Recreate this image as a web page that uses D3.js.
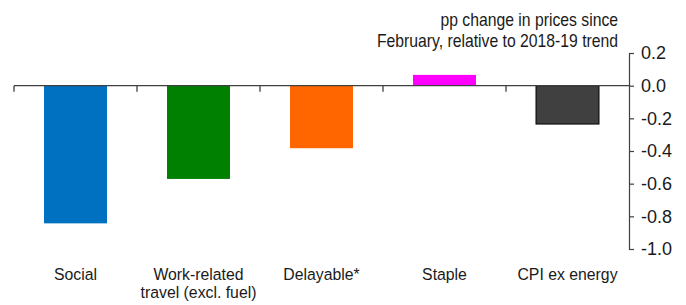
<!DOCTYPE html>
<html>
<head>
<meta charset="utf-8">
<script src="https://cdn.jsdelivr.net/npm/d3@7"></script>
<style>
  body { margin: 0; background: #fff; }
  text { font-family: "Liberation Sans", Arial, sans-serif; fill: #1a1a1a; }
</style>
</head>
<body>
<svg id="canvas"></svg>
<script>
// categories and values (pp change vs 2018-19 trend)
const categories = ['Social', 'Work-related travel (excl. fuel)', 'Delayable*', 'Staple', 'CPI ex energy'];
const labelLines = [['Social'], ['Work-related', 'travel (excl. fuel)'], ['Delayable*'], ['Staple'], ['CPI ex energy']];
const values = [-0.843, -0.571, -0.383, 0.066, -0.235];
const colors = ['#0070c0', '#008000', '#ff6600', '#ff00ff', '#404040'];
const yTicks = [0.2, 0.0, -0.2, -0.4, -0.6, -0.8, -1.0];
const titleLines = ['pp change in prices since', 'February, relative to 2018-19 trend'];

const w = 686;
const h = 305;
const plotLeft = 14, plotRight = 629;
const plotTop = 53, plotBottom = 249;

const svg = d3.select('#canvas').attr('width', w).attr('height', h);

const pad = 0.488;
const x = d3.scaleBand()
  .domain(categories)
  .range([plotLeft, plotRight])
  .paddingInner(pad)
  .paddingOuter(pad / 2);

const y = d3.scaleLinear().domain([0.2, -1.0]).range([plotTop, plotBottom]);

// bars
svg.selectAll('rect.bar')
  .data(values)
  .enter()
  .append('rect')
  .attr('class', 'bar')
  .attr('x', (d, i) => x(categories[i]))
  .attr('width', x.bandwidth())
  .attr('y', d => y(Math.max(0, d)))
  .attr('height', d => Math.abs(y(d) - y(0)))
  .style('fill', (d, i) => colors[i])
  .style('stroke', (d, i) => i === 4 ? '#000' : 'none')
  .style('stroke-width', 1);

// zero line with category boundary ticks
const step = x.step();
const zero = svg.append('g');
zero.append('line')
  .attr('x1', plotLeft).attr('x2', plotRight)
  .attr('y1', y(0)).attr('y2', y(0))
  .style('stroke', '#404040').style('stroke-width', 1.3);
zero.selectAll('line.tk')
  .data(categories)
  .enter()
  .append('line')
  .attr('class', 'tk')
  .attr('x1', d => x(d) - step * pad / 2)
  .attr('x2', d => x(d) - step * pad / 2)
  .attr('y1', y(0)).attr('y2', y(0) + 6)
  .style('stroke', '#404040').style('stroke-width', 1.3);

// right axis
const yAxis = d3.axisRight(y).tickValues(yTicks).tickFormat(d3.format('.1f')).tickSize(5).tickPadding(7);
const ga = svg.append('g').attr('transform', 'translate(' + plotRight + ',0)').call(yAxis);
ga.selectAll('path, line').style('stroke', '#404040').style('stroke-width', 1.2);
ga.selectAll('text').style('font-size', '18px').style('font-family', '"Liberation Sans", Arial, sans-serif').style('fill', '#1a1a1a');
ga.selectAll('text').text(d => d3.format('.1f')(d).replace('−', '-'));

// category labels (text is a bit condensed in the original)
const lab = svg.append('g');
labelLines.forEach((lines, i) => {
  const cx = x(categories[i]) + x.bandwidth() / 2;
  const t = lab.append('text')
    .attr('transform', 'translate(' + cx + ',280) scale(0.93,1)')
    .attr('text-anchor', 'middle')
    .style('font-size', '17px');
  lines.forEach((l, j) => {
    t.append('tspan')
      .attr('x', 0)
      .attr('dy', j === 0 ? 0 : 18)
      .text(l);
  });
});

// title
svg.append('text')
  .attr('transform', 'translate(618,26) scale(0.9,1)')
  .attr('text-anchor', 'end')
  .style('font-size', '17.5px')
  .selectAll('tspan')
  .data(titleLines)
  .enter()
  .append('tspan')
  .attr('x', 0)
  .attr('dy', (d, i) => i === 0 ? 0 : 20.7)
  .text(d => d);
</script>
</body>
</html>
